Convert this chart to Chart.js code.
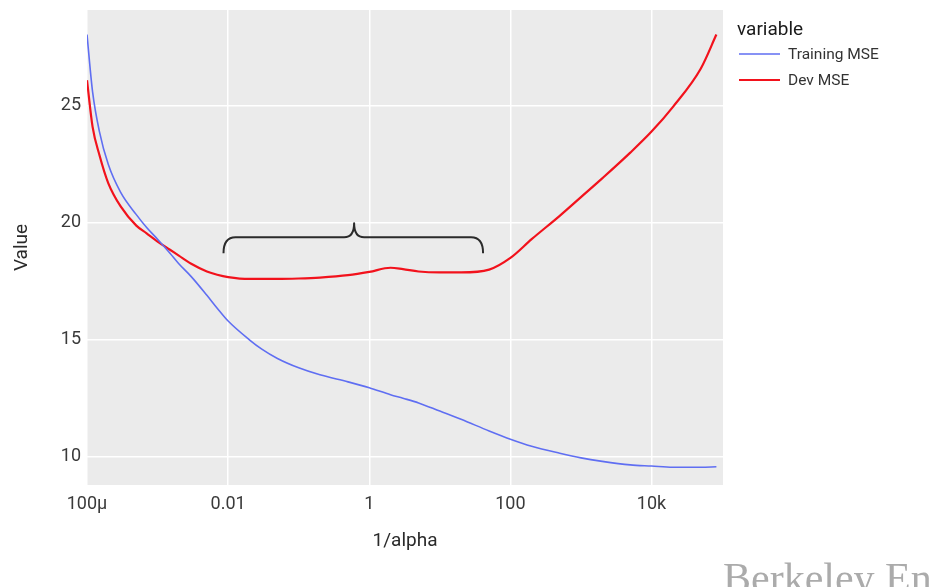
<!DOCTYPE html>
<html>
<head>
<meta charset="utf-8">
<script src="https://cdn.jsdelivr.net/npm/chart.js@4/dist/chart.umd.min.js"></script>
<style>
  html, body { margin: 0; padding: 0; background: #fff; }
  #wrap { width: 929px; height: 587px; position: relative; }
</style>
</head>
<body>
<div id="wrap"><canvas id="c" width="929" height="587"></canvas></div>
<script>
// ---- data ----
const inverseAlpha = [1e-4, 1.2e-4, 1.5e-4, 2e-4, 3e-4, 5e-4, 7e-4, 1e-3, 1.5e-3, 2e-3, 3e-3, 5e-3, 7e-3,
  0.01, 0.02, 0.03, 0.05, 0.1, 0.2, 0.5, 1, 2, 3, 5, 10, 20, 50, 100, 200, 500, 1000, 2000, 5000,
  1e4, 2e4, 5e4, 8.3e4];
const trainingMSE = [28.05, 25.6, 23.9, 22.5, 21.3, 20.35, 19.8, 19.3, 18.7, 18.25, 17.7, 16.9, 16.35,
  15.8, 15.0, 14.6, 14.2, 13.8, 13.5, 13.2, 12.95, 12.65, 12.5, 12.3, 11.95, 11.6, 11.1, 10.75, 10.45,
  10.15, 9.95, 9.8, 9.65, 9.6, 9.55, 9.55, 9.57];
const devMSE = [26.1, 24.1, 22.9, 21.7, 20.7, 19.88, 19.55, 19.2, 18.85, 18.6, 18.25, 17.92, 17.78,
  17.68, 17.6, 17.6, 17.6, 17.62, 17.66, 17.76, 17.9, 18.08, 18.02, 17.92, 17.88, 17.88, 18.0, 18.5, 19.3,
  20.3, 21.1, 21.9, 23.0, 23.9, 24.95, 26.6, 28.05];
const seriesNames = ['Training MSE', 'Dev MSE'];
const xTickValues = [1e-4, 0.01, 1, 100, 1e4];
const xTickLabels = ['100\u03BC', '0.01', '1', '100', '10k'];
const yTickValues = [10, 15, 20, 25];
// brace annotation: [left tip, centre, right tip] on x; [tip, line, peak] on y
const braceX = [0.0086, 0.61, 41];
const braceY = [18.7, 19.38, 19.98];

const FONT = 'Roboto, "Liberation Sans", sans-serif';

const panelBg = {
  id: 'panelBg',
  beforeDraw(chart) {
    const {ctx, chartArea: a} = chart;
    ctx.save();
    ctx.fillStyle = '#EBEBEB';
    ctx.fillRect(a.left, a.top, a.right - a.left, a.bottom - a.top);
    ctx.restore();
  }
};

const brace = {
  id: 'brace',
  afterDatasetsDraw(chart) {
    const {ctx, scales: {x, y}} = chart;
    const xl = x.getPixelForValue(braceX[0]);
    const xc = x.getPixelForValue(braceX[1]);
    const xr = x.getPixelForValue(braceX[2]);
    const yt = y.getPixelForValue(braceY[0]);
    const yl = y.getPixelForValue(braceY[1]);
    const yp = y.getPixelForValue(braceY[2]);
    ctx.save();
    ctx.strokeStyle = '#2b2b2b';
    ctx.lineWidth = 2;
    ctx.lineJoin = 'round';
    ctx.beginPath();
    ctx.moveTo(xl, yt);
    ctx.quadraticCurveTo(xl, yl, xl + 12, yl);
    ctx.lineTo(xc - 10, yl);
    ctx.quadraticCurveTo(xc, yl, xc, yp);
    ctx.quadraticCurveTo(xc, yl, xc + 10, yl);
    ctx.lineTo(xr - 12, yl);
    ctx.quadraticCurveTo(xr, yl, xr, yt);
    ctx.stroke();
    ctx.restore();
  }
};

const sideLegend = {
  id: 'sideLegend',
  afterDraw(chart) {
    const {ctx, chartArea: a} = chart;
    const x0 = a.right + 14;
    ctx.save();
    ctx.textBaseline = 'middle';
    ctx.textAlign = 'left';
    ctx.fillStyle = '#1a1a1a';
    ctx.font = '19px ' + FONT;
    ctx.fillText('variable', x0, 30);
    ctx.font = '15.5px ' + FONT;
    chart.data.datasets.forEach((ds, i) => {
      const yy = 54 + i * 26;
      ctx.strokeStyle = ds.borderColor;
      ctx.lineWidth = ds.borderWidth;
      ctx.beginPath();
      ctx.moveTo(x0 + 2, yy);
      ctx.lineTo(x0 + 43, yy);
      ctx.stroke();
      ctx.fillStyle = '#333';
      ctx.fillText(ds.label, x0 + 51, yy + 1);
    });
    // watermark
    ctx.font = '42px "Liberation Serif", "DejaVu Serif", serif';
    ctx.fillStyle = '#ababab';
    ctx.textBaseline = 'alphabetic';
    ctx.fillText('Berkeley Engineering', a.right, 592);
    ctx.restore();
  }
};

new Chart(document.getElementById('c'), {
  type: 'line',
  data: {
    datasets: [
      {
        label: seriesNames[0],
        data: inverseAlpha.map((v, i) => ({x: v, y: trainingMSE[i]})),
        borderColor: '#5f6ef2',
        backgroundColor: '#5f6ef2',
        borderWidth: 1.6,
        pointRadius: 0,
        cubicInterpolationMode: 'monotone',
        fill: false
      },
      {
        label: seriesNames[1],
        data: inverseAlpha.map((v, i) => ({x: v, y: devMSE[i]})),
        borderColor: '#f2121c',
        backgroundColor: '#f2121c',
        borderWidth: 2.2,
        pointRadius: 0,
        cubicInterpolationMode: 'monotone',
        fill: false
      }
    ]
  },
  options: {
    responsive: false,
    animation: false,
    layout: { padding: { top: 10, right: 206, left: 0, bottom: 0 } },
    plugins: {
      legend: { display: false },
      tooltip: { enabled: false }
    },
    scales: {
      x: {
        type: 'logarithmic',
        min: 1e-4,
        max: 1.03e5,
        border: { display: false },
        grid: { color: '#ffffff', lineWidth: 1.5, drawTicks: false },
        afterBuildTicks(scale) { scale.ticks = xTickValues.map(v => ({value: v})); },
        afterFit(scale) { scale.height = 102; scale.paddingLeft = 0; scale.paddingRight = 0; },
        ticks: {
          autoSkip: false,
          maxRotation: 0,
          padding: 9,
          color: '#3a3a3a',
          font: { family: FONT, size: 18 },
          callback(value) {
            const i = xTickValues.indexOf(value);
            return i >= 0 ? xTickLabels[i] : '';
          }
        },
        title: {
          display: true,
          text: '1/alpha',
          color: '#2a2a2a',
          font: { family: FONT, size: 19 },
          padding: { top: 0, bottom: 34 }
        }
      },
      y: {
        type: 'linear',
        min: 8.79,
        max: 29.1,
        border: { display: false },
        grid: { color: '#ffffff', lineWidth: 1.5, drawTicks: false },
        afterBuildTicks(scale) { scale.ticks = yTickValues.map(v => ({value: v})); },
        afterFit(scale) { scale.width = 87; scale.paddingTop = 0; scale.paddingBottom = 0; },
        ticks: {
          padding: 6,
          color: '#3a3a3a',
          font: { family: FONT, size: 18 }
        },
        title: {
          display: true,
          text: 'Value',
          color: '#2a2a2a',
          font: { family: FONT, size: 19 },
          padding: { top: 11, bottom: 0 }
        }
      }
    }
  },
  plugins: [panelBg, brace, sideLegend]
});
</script>
</body>
</html>
